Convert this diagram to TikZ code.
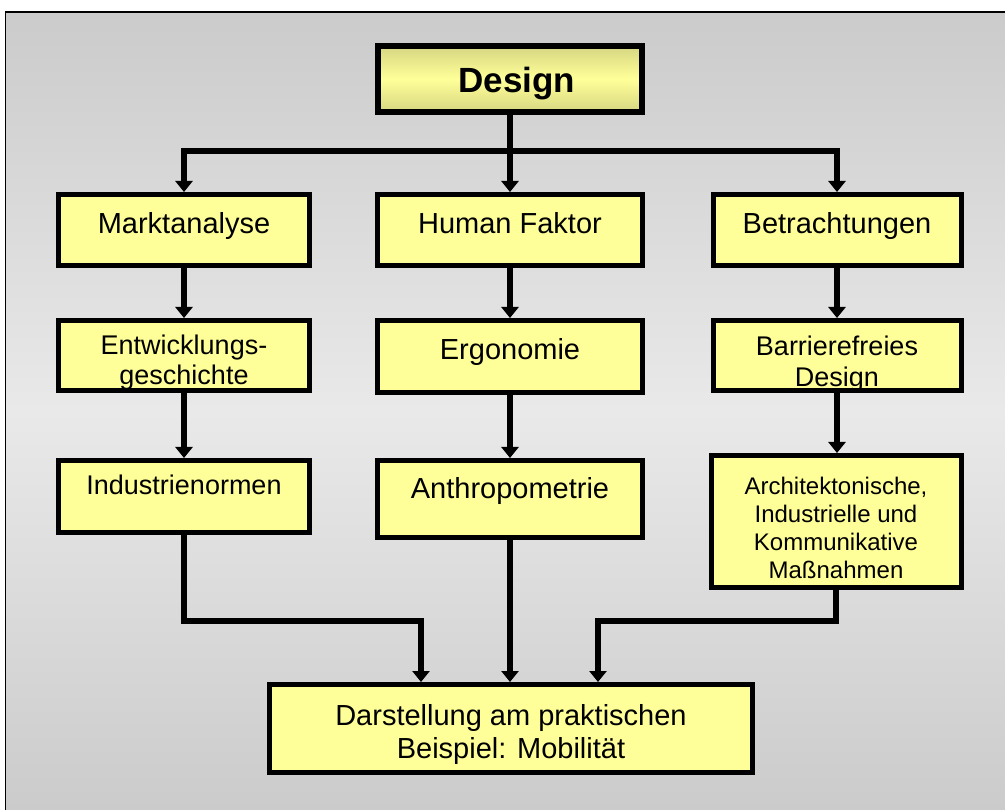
\documentclass[tikz,border=0pt]{standalone}
\usepackage{fontspec}
\setmainfont{Liberation Sans}
\usetikzlibrary{arrows.meta}
\definecolor{boxfill}{HTML}{FFFF99}
\definecolor{boxedge}{RGB}{214,214,130}
\definecolor{bgdark}{HTML}{CBCBCB}
\definecolor{bglight}{HTML}{E9E9E9}
\begin{document}
\begin{tikzpicture}[x=1pt,y=-1pt,
  box/.style={draw=black,line width=5pt,fill=boxfill,inner sep=0pt},
  txt/.style={align=center,inner sep=0pt,text=black},
  one/.style={txt,text height=7.5pt,text depth=2.5pt},
  big/.style={font=\fontsize{29}{33}\selectfont},
  small/.style={font=\fontsize{27}{30.5}\selectfont},
  tinyt/.style={font=\fontsize{24}{28}\selectfont},
  conn/.style={line width=5.5pt,draw=black},
  arr/.style={conn,-{Triangle[width=17pt,length=11pt]}}]
\useasboundingbox (0,0) rectangle (1005,810);
\fill[white] (0,0) rectangle (1005,810);
\shade[top color=bgdark,bottom color=bgdark,middle color=bglight] (5.5,12) rectangle (1005,810);
\draw[black,line width=1.8pt] (5.5,810) -- (5.5,12) -- (1005,12);

% boxes
\node[box,line width=6pt,top color=boxedge,bottom color=boxedge,middle color=boxfill,
  minimum width=264pt,minimum height=66pt] (design) at (510,79) {};
\node[box,minimum width=251pt,minimum height=71pt] (mark) at (184,230) {};
\node[box,minimum width=265pt,minimum height=71pt] (hum) at (510,230) {};
\node[box,minimum width=248pt,minimum height=71pt] (betr) at (837,230) {};
\node[box,minimum width=251pt,minimum height=70pt] (entw) at (184,355.5) {};
\node[box,minimum width=265pt,minimum height=72pt] (ergo) at (510,356.5) {};
\node[box,minimum width=248pt,minimum height=70pt] (barr) at (837,355.5) {};
\node[box,minimum width=251pt,minimum height=72pt] (ind) at (184,496.5) {};
\node[box,minimum width=265pt,minimum height=77pt] (anth) at (510,499) {};
\node[box,minimum width=250pt,minimum height=132pt] (arch) at (836,521.5) {};
\node[box,minimum width=483pt,minimum height=88pt] (bot) at (511,728.5) {};

% texts
\node[one,font=\bfseries\fontsize{35}{40}\selectfont] (designt) at ([xshift=7pt,yshift=-11pt]design.center) {Design};
\node[one,big] (markt) at ([yshift=-1pt]mark.center) {Marktanalyse};
\node[one,big] (humt) at ([yshift=-1pt]hum.center) {Human Faktor};
\node[one,big] (betrt) at ([yshift=-1pt]betr.center) {Betrachtungen};
\node[txt,small] (entwt) at ([yshift=-7pt]entw.center) {Entwicklungs-\\geschichte};
\node[one,big] (ergot) at ([yshift=-0.5pt]ergo.center) {Ergonomie};
\node[txt,small] (barrt) at ([yshift=-8.5pt]barr.center) {Barrierefreies\\Design};
\node[one,small] (indt) at ([yshift=4.5pt]ind.center) {Industrienormen};
\node[one,big] (antht) at ([yshift=3pt]anth.center) {Anthropometrie};
\node[txt,tinyt] (archt) at ([yshift=-6pt]arch.center) {Architektonische,\\Industrielle und\\Kommunikative\\Maßnahmen};
\node[txt,big] (bott) at ([yshift=-5.5pt]bot.center) {Darstellung am praktischen\\Beispiel: Mobilität};

% connectors
\coordinate (jt) at (510,151);
\coordinate (jl) at (421,621);
\coordinate (jr) at (598,621);

\draw[arr] (design.south) -- (hum.north);
\draw[arr] (jt) -| (mark.north);
\draw[arr] (jt) -| (betr.north);

\draw[arr] (mark.south) -- (entw.north);
\draw[arr] (hum.south) -- (ergo.north);
\draw[arr] (betr.south) -- (barr.north);

\draw[arr] (entw.south) -- (ind.north);
\draw[arr] (ergo.south) -- (anth.north);
\draw[arr] (barr.south) -- (barr.south |- arch.north);

\draw[arr] (ind.south) |- (jl) -- (jl |- bot.north);
\draw[arr] (anth.south) -- (bot.north -| anth.south);
\draw[arr] (arch.south) |- (jr) -- (jr |- bot.north);
\end{tikzpicture}
\end{document}
